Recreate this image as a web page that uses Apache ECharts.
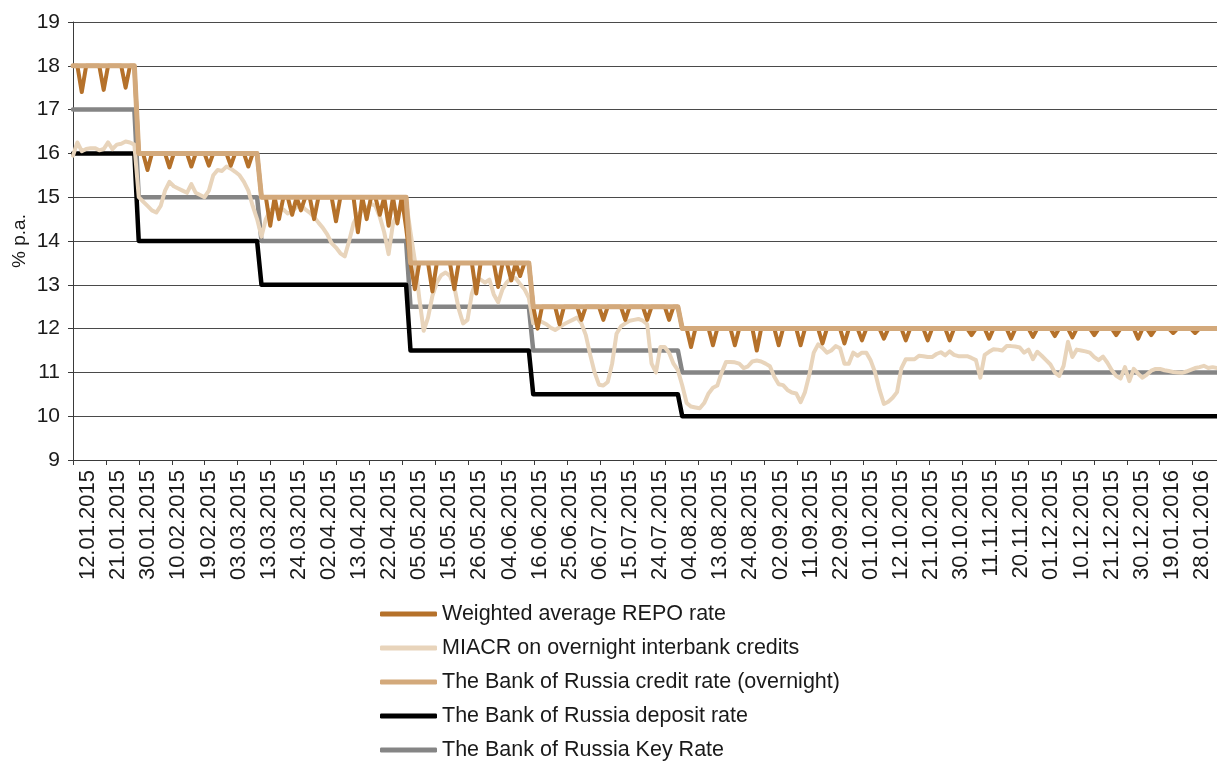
<!DOCTYPE html>
<html>
<head>
<meta charset="utf-8">
<title>Money market rates, 2015</title>
<script src="https://cdn.jsdelivr.net/npm/echarts@6/dist/echarts.min.js"></script>
<style>
  html, body { margin: 0; padding: 0; background: #ffffff; }
  #chart { width: 1217px; height: 762px; }
</style>
</head>
<body>
<div id="chart"></div>
<script>
// Trading days, one row per month
const tradingDays = [
  '12.01.2015','13.01.2015','14.01.2015','15.01.2015','16.01.2015','19.01.2015','20.01.2015','21.01.2015','22.01.2015','23.01.2015','26.01.2015','27.01.2015','28.01.2015','29.01.2015','30.01.2015',
  '02.02.2015','03.02.2015','04.02.2015','05.02.2015','06.02.2015','09.02.2015','10.02.2015','11.02.2015','12.02.2015','13.02.2015','16.02.2015','17.02.2015','18.02.2015','19.02.2015','20.02.2015','24.02.2015','25.02.2015','26.02.2015','27.02.2015',
  '02.03.2015','03.03.2015','04.03.2015','05.03.2015','06.03.2015','10.03.2015','11.03.2015','12.03.2015','13.03.2015','16.03.2015','17.03.2015','18.03.2015','19.03.2015','20.03.2015','23.03.2015','24.03.2015','25.03.2015','26.03.2015','27.03.2015','30.03.2015','31.03.2015',
  '01.04.2015','02.04.2015','03.04.2015','06.04.2015','07.04.2015','08.04.2015','09.04.2015','10.04.2015','13.04.2015','14.04.2015','15.04.2015','16.04.2015','17.04.2015','20.04.2015','21.04.2015','22.04.2015','23.04.2015','24.04.2015','27.04.2015','28.04.2015','29.04.2015','30.04.2015',
  '05.05.2015','06.05.2015','07.05.2015','08.05.2015','12.05.2015','13.05.2015','14.05.2015','15.05.2015','18.05.2015','19.05.2015','20.05.2015','21.05.2015','22.05.2015','25.05.2015','26.05.2015','27.05.2015','28.05.2015','29.05.2015',
  '01.06.2015','02.06.2015','03.06.2015','04.06.2015','05.06.2015','08.06.2015','09.06.2015','10.06.2015','11.06.2015','15.06.2015','16.06.2015','17.06.2015','18.06.2015','19.06.2015','22.06.2015','23.06.2015','24.06.2015','25.06.2015','26.06.2015','29.06.2015','30.06.2015',
  '01.07.2015','02.07.2015','03.07.2015','06.07.2015','07.07.2015','08.07.2015','09.07.2015','10.07.2015','13.07.2015','14.07.2015','15.07.2015','16.07.2015','17.07.2015','20.07.2015','21.07.2015','22.07.2015','23.07.2015','24.07.2015','27.07.2015','28.07.2015','29.07.2015','30.07.2015','31.07.2015',
  '03.08.2015','04.08.2015','05.08.2015','06.08.2015','07.08.2015','10.08.2015','11.08.2015','12.08.2015','13.08.2015','14.08.2015','17.08.2015','18.08.2015','19.08.2015','20.08.2015','21.08.2015','24.08.2015','25.08.2015','26.08.2015','27.08.2015','28.08.2015','31.08.2015',
  '01.09.2015','02.09.2015','03.09.2015','04.09.2015','07.09.2015','08.09.2015','09.09.2015','10.09.2015','11.09.2015','14.09.2015','15.09.2015','16.09.2015','17.09.2015','18.09.2015','21.09.2015','22.09.2015','23.09.2015','24.09.2015','25.09.2015','28.09.2015','29.09.2015','30.09.2015',
  '01.10.2015','02.10.2015','05.10.2015','06.10.2015','07.10.2015','08.10.2015','09.10.2015','12.10.2015','13.10.2015','14.10.2015','15.10.2015','16.10.2015','19.10.2015','20.10.2015','21.10.2015','22.10.2015','23.10.2015','26.10.2015','27.10.2015','28.10.2015','29.10.2015','30.10.2015',
  '02.11.2015','03.11.2015','05.11.2015','06.11.2015','09.11.2015','10.11.2015','11.11.2015','12.11.2015','13.11.2015','16.11.2015','17.11.2015','18.11.2015','19.11.2015','20.11.2015','23.11.2015','24.11.2015','25.11.2015','26.11.2015','27.11.2015','30.11.2015',
  '01.12.2015','02.12.2015','03.12.2015','04.12.2015','07.12.2015','08.12.2015','09.12.2015','10.12.2015','11.12.2015','14.12.2015','15.12.2015','16.12.2015','17.12.2015','18.12.2015','21.12.2015','22.12.2015','23.12.2015','24.12.2015','25.12.2015','28.12.2015','29.12.2015','30.12.2015',
  '11.01.2016','12.01.2016','13.01.2016','14.01.2016','15.01.2016','18.01.2016','19.01.2016','20.01.2016','21.01.2016','22.01.2016','25.01.2016','26.01.2016','27.01.2016','28.01.2016','29.01.2016',
  '01.02.2016'
];

// Weighted average REPO rate, % p.a.
const repoRate = [
  18,18,17.4,18,18,  18,18,17.45,18,18,  18,18,17.5,18,18,
  16,16,15.62,16,16,  16,16,15.68,16,16,  16,16,15.7,16,16,  16,15.72,16,16,
  16,16,15.72,16,16,  16,15.7,16,16,  15,15,14.35,15,14.5,  15,15,14.6,15,14.7,  15,15,
  14.5,15,15,15,15,  14.45,15,15,15,15,  14.2,15,14.5,15,15,  14.6,15,14.35,15,14.4,  15,14.3,
  13.5,12.9,13.5,13.5,13.5,  12.85,13.5,13.5,13.5,13.5,  12.9,13.5,13.5,13.5,13.5,  12.8,13.5,13.5,
  13.5,13.5,12.95,13.5,13.5,  13.1,13.5,13.2,13.5,13.5,  12.5,12.0,12.5,12.5,12.5,  12.5,12.1,12.5,12.5,12.5,  12.5,
  12.2,12.5,12.5,12.5,12.5,  12.2,12.5,12.5,12.5,12.5,  12.2,12.5,12.5,12.5,12.5,  12.2,12.5,12.5,12.5,12.5,  12.2,12.5,12.5,
  12,12,11.58,12,12,  12,12,11.62,12,12,  12,12,11.62,12,12,  12,12,11.5,12,12,  12,
  12,11.62,12,12,12,  12,11.62,12,12,12,  12,11.66,12,12,12,  12,11.66,12,12,12,  11.73,12,
  12,12,12,11.77,12,  12,12,12,11.73,12,  12,12,12,11.73,12,  12,12,12,11.73,12,  12,12,
  12,11.85,12,12,12,  11.77,12,12,12,12,  11.77,12,12,12,12,  11.81,12,12,12,12,
  11.83,12,12,12,11.8,  12,12,12,12,11.85,  12,12,12,12,11.85,  12,12,12,12,11.77,  12,12,
  11.85,12,12,12,12,  11.9,12,12,12,12,  11.9,12,12,12,12,
  12
];

// MIACR on overnight interbank credits, % p.a.
const miacrRate = [
  15.95,16.25,16.05,16.1,16.12,  16.12,16.07,16.1,16.25,16.1,  16.2,16.22,16.27,16.25,16.2,
  15.0,14.9,14.8,14.7,14.65,  14.8,15.15,15.35,15.25,15.2,  15.15,15.1,15.3,15.1,15.05,  15.0,15.15,15.5,15.62,
  15.6,15.7,15.65,15.58,15.5,  15.35,15.15,14.8,14.5,14.1,  14.5,14.7,14.75,14.7,14.72,  14.63,14.67,14.78,14.82,14.72,  14.65,
  14.55,14.42,14.3,14.15,13.95,  13.85,13.72,13.65,14.0,14.4,  14.6,14.7,14.75,14.85,14.8,  14.55,14.2,13.7,14.4,14.62,  14.75,14.9,
  14.2,13.55,12.7,11.95,12.25,  12.75,13.05,13.22,13.28,13.2,  12.95,12.45,12.12,12.2,12.8,  13.1,13.12,13.05,
  13.12,12.78,12.6,12.9,13.06,  13.15,13.15,13.02,12.9,12.7,  12.12,12.2,12.15,12.1,12.02,  11.97,12.03,12.1,12.15,12.2,  12.25,
  12.12,11.85,11.4,11.0,10.72,  10.7,10.78,11.2,11.88,12.05,  12.12,12.18,12.2,12.22,12.18,  12.1,11.2,11.0,11.58,11.58,  11.45,11.2,11.05,
  10.7,10.3,10.22,10.2,10.18,  10.3,10.52,10.65,10.7,11.0,  11.24,11.24,11.23,11.2,11.1,  11.14,11.25,11.27,11.25,11.2,  11.14,
  10.9,10.73,10.71,10.6,10.54,  10.52,10.32,10.55,10.95,11.45,  11.64,11.56,11.45,11.5,11.6,  11.55,11.2,11.2,11.45,11.38,  11.45,11.45,
  11.27,11.0,10.6,10.28,10.33,  10.42,10.55,11.1,11.3,11.3,  11.3,11.38,11.37,11.35,11.35,  11.42,11.46,11.39,11.48,11.4,  11.37,11.37,
  11.37,11.33,11.28,10.88,11.4,  11.47,11.53,11.52,11.5,11.6,  11.6,11.59,11.57,11.45,11.52,  11.3,11.47,11.38,11.28,11.18,
  11.0,10.92,11.15,11.7,11.35,  11.52,11.5,11.48,11.45,11.35,  11.28,11.36,11.22,11.05,10.92,  10.86,11.12,10.8,11.08,10.97,  10.88,10.95,
  11.04,11.08,11.08,11.05,11.03,  11.01,11.0,10.99,11.02,11.06,  11.1,11.12,11.15,11.1,11.12,
  11.1
];

// The Bank of Russia credit rate (overnight), % p.a.
const creditRate = [
  18,18,18,18,18,  18,18,18,18,18,  18,18,18,18,18,
  16,16,16,16,16,  16,16,16,16,16,  16,16,16,16,16,  16,16,16,16,
  16,16,16,16,16,  16,16,16,16,  15,15,15,15,15,  15,15,15,15,15,  15,15,
  15,15,15,15,15,  15,15,15,15,15,  15,15,15,15,15,  15,15,15,15,15,  15,15,
  13.5,13.5,13.5,13.5,13.5,  13.5,13.5,13.5,13.5,13.5,  13.5,13.5,13.5,13.5,13.5,  13.5,13.5,13.5,
  13.5,13.5,13.5,13.5,13.5,  13.5,13.5,13.5,13.5,13.5,  12.5,12.5,12.5,12.5,12.5,  12.5,12.5,12.5,12.5,12.5,  12.5,
  12.5,12.5,12.5,12.5,12.5,  12.5,12.5,12.5,12.5,12.5,  12.5,12.5,12.5,12.5,12.5,  12.5,12.5,12.5,12.5,12.5,  12.5,12.5,12.5,
  12,12,12,12,12,  12,12,12,12,12,  12,12,12,12,12,  12,12,12,12,12,  12,
  12,12,12,12,12,  12,12,12,12,12,  12,12,12,12,12,  12,12,12,12,12,  12,12,
  12,12,12,12,12,  12,12,12,12,12,  12,12,12,12,12,  12,12,12,12,12,  12,12,
  12,12,12,12,12,  12,12,12,12,12,  12,12,12,12,12,  12,12,12,12,12,
  12,12,12,12,12,  12,12,12,12,12,  12,12,12,12,12,  12,12,12,12,12,  12,12,
  12,12,12,12,12,  12,12,12,12,12,  12,12,12,12,12,
  12
];

// The Bank of Russia deposit rate, % p.a.
const depositRate = [
  16,16,16,16,16,  16,16,16,16,16,  16,16,16,16,16,
  14,14,14,14,14,  14,14,14,14,14,  14,14,14,14,14,  14,14,14,14,
  14,14,14,14,14,  14,14,14,14,  13,13,13,13,13,  13,13,13,13,13,  13,13,
  13,13,13,13,13,  13,13,13,13,13,  13,13,13,13,13,  13,13,13,13,13,  13,13,
  11.5,11.5,11.5,11.5,11.5,  11.5,11.5,11.5,11.5,11.5,  11.5,11.5,11.5,11.5,11.5,  11.5,11.5,11.5,
  11.5,11.5,11.5,11.5,11.5,  11.5,11.5,11.5,11.5,11.5,  10.5,10.5,10.5,10.5,10.5,  10.5,10.5,10.5,10.5,10.5,  10.5,
  10.5,10.5,10.5,10.5,10.5,  10.5,10.5,10.5,10.5,10.5,  10.5,10.5,10.5,10.5,10.5,  10.5,10.5,10.5,10.5,10.5,  10.5,10.5,10.5,
  10,10,10,10,10,  10,10,10,10,10,  10,10,10,10,10,  10,10,10,10,10,  10,
  10,10,10,10,10,  10,10,10,10,10,  10,10,10,10,10,  10,10,10,10,10,  10,10,
  10,10,10,10,10,  10,10,10,10,10,  10,10,10,10,10,  10,10,10,10,10,  10,10,
  10,10,10,10,10,  10,10,10,10,10,  10,10,10,10,10,  10,10,10,10,10,
  10,10,10,10,10,  10,10,10,10,10,  10,10,10,10,10,  10,10,10,10,10,  10,10,
  10,10,10,10,10,  10,10,10,10,10,  10,10,10,10,10,
  10
];

// The Bank of Russia Key Rate, % p.a.
const keyRate = [
  17,17,17,17,17,  17,17,17,17,17,  17,17,17,17,17,
  15,15,15,15,15,  15,15,15,15,15,  15,15,15,15,15,  15,15,15,15,
  15,15,15,15,15,  15,15,15,15,  14,14,14,14,14,  14,14,14,14,14,  14,14,
  14,14,14,14,14,  14,14,14,14,14,  14,14,14,14,14,  14,14,14,14,14,  14,14,
  12.5,12.5,12.5,12.5,12.5,  12.5,12.5,12.5,12.5,12.5,  12.5,12.5,12.5,12.5,12.5,  12.5,12.5,12.5,
  12.5,12.5,12.5,12.5,12.5,  12.5,12.5,12.5,12.5,12.5,  11.5,11.5,11.5,11.5,11.5,  11.5,11.5,11.5,11.5,11.5,  11.5,
  11.5,11.5,11.5,11.5,11.5,  11.5,11.5,11.5,11.5,11.5,  11.5,11.5,11.5,11.5,11.5,  11.5,11.5,11.5,11.5,11.5,  11.5,11.5,11.5,
  11,11,11,11,11,  11,11,11,11,11,  11,11,11,11,11,  11,11,11,11,11,  11,
  11,11,11,11,11,  11,11,11,11,11,  11,11,11,11,11,  11,11,11,11,11,  11,11,
  11,11,11,11,11,  11,11,11,11,11,  11,11,11,11,11,  11,11,11,11,11,  11,11,
  11,11,11,11,11,  11,11,11,11,11,  11,11,11,11,11,  11,11,11,11,11,
  11,11,11,11,11,  11,11,11,11,11,  11,11,11,11,11,  11,11,11,11,11,  11,11,
  11,11,11,11,11,  11,11,11,11,11,  11,11,11,11,11,
  11
];

// Axis texts
const yTicks = { min: 9, max: 19, step: 1 };
const yAxisTitle = '% p.a.';
const labelEvery = 7;
const tickLabels = tradingDays.filter((d, i) => i % labelEvery === 0);

const seriesNames = {
  repo: 'Weighted average REPO rate',
  miacr: 'MIACR on overnight interbank credits',
  credit: 'The Bank of Russia credit rate (overnight)',
  deposit: 'The Bank of Russia deposit rate',
  key: 'The Bank of Russia Key Rate'
};

const FONT = '"Liberation Sans", Arial, Helvetica, sans-serif';
const TEXT = '#1a1a1a';
const AXIS = '#3a3a3a';

const chart = echarts.init(document.getElementById('chart'), null, { renderer: 'canvas' });

function lineSeries(name, data, color, width, z) {
  return {
    name: name,
    type: 'line',
    xAxisIndex: 0,
    yAxisIndex: 0,
    data: data,
    color: color,
    showSymbol: false,
    symbol: 'none',
    z: z,
    lineStyle: { color: color, width: width, join: 'round', cap: 'round' },
    emphasis: { disabled: true },
    silent: true
  };
}

chart.setOption({
  animation: false,
  backgroundColor: '#ffffff',
  textStyle: { fontFamily: FONT },
  grid: { left: 73, right: 0, top: 22, bottom: 302, containLabel: false, outerBoundsMode: 'none' },
  xAxis: [
    {
      // daily data axis
      type: 'category',
      data: tradingDays,
      boundaryGap: false,
      axisLine: { show: true, lineStyle: { color: AXIS, width: 1 } },
      axisTick: { show: false },
      axisLabel: { show: false },
      splitLine: { show: false }
    },
    {
      // date labels every seven trading days
      type: 'category',
      data: tickLabels,
      boundaryGap: true,
      position: 'bottom',
      axisLine: { show: false },
      axisTick: { show: false },
      splitLine: { show: false },
      axisLabel: {
        interval: 0,
        rotate: 90,
        margin: 10,
        fontSize: 22,
        fontFamily: FONT,
        color: TEXT
      }
    },
    {
      // tick marks along the category axis
      type: 'value',
      min: 0,
      max: 34.74,
      interval: 1,
      position: 'bottom',
      axisLine: { show: false },
      axisTick: { show: true, length: 5, lineStyle: { color: AXIS, width: 1 } },
      axisLabel: { show: false },
      splitLine: { show: false }
    }
  ],
  yAxis: {
    type: 'value',
    min: yTicks.min,
    max: yTicks.max,
    interval: yTicks.step,
    name: yAxisTitle,
    nameLocation: 'middle',
    nameRotate: 90,
    nameGap: 44,
    nameMoveOverlap: false,
    nameTextStyle: { fontSize: 19, color: TEXT, fontFamily: FONT },
    axisLine: { show: true, lineStyle: { color: AXIS, width: 1 } },
    axisTick: { show: true, length: 5, lineStyle: { color: AXIS } },
    axisLabel: { fontSize: 21, color: TEXT, margin: 13, fontFamily: FONT },
    splitLine: { show: true, lineStyle: { color: '#4a4a4a', width: 1 } }
  },
  legend: {
    orient: 'vertical',
    left: 380,
    top: 603,
    height: 159,
    padding: 0,
    icon: 'roundRect',
    itemWidth: 57,
    itemHeight: 5,
    itemGap: 12,
    selectedMode: false,
    data: [seriesNames.repo, seriesNames.miacr, seriesNames.credit, seriesNames.deposit, seriesNames.key],
    textStyle: { fontSize: 21.5, color: TEXT, fontFamily: FONT, lineHeight: 22 }
  },
  series: [
    lineSeries(seriesNames.key, keyRate, '#858585', 4.5, 2),
    lineSeries(seriesNames.deposit, depositRate, '#000000', 4.5, 3),
    lineSeries(seriesNames.miacr, miacrRate, '#e8d4bb', 4, 4),
    lineSeries(seriesNames.repo, repoRate, '#b5712a', 4, 5),
    lineSeries(seriesNames.credit, creditRate, '#d3a97b', 5, 6)
  ]
});
</script>
</body>
</html>
